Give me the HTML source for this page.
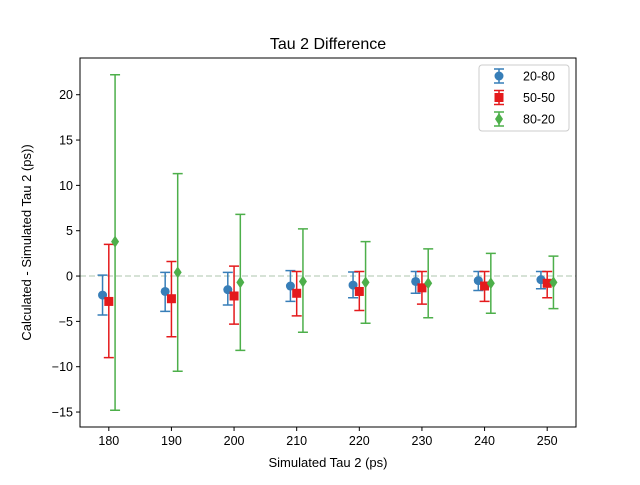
<!DOCTYPE html>
<html><head><meta charset="utf-8"><style>
body{margin:0;background:#fff}
svg{font-family:"Liberation Sans","DejaVu Sans",sans-serif}
</style></head><body>
<svg id="c" width="640" height="480" xmlns="http://www.w3.org/2000/svg"></svg>
<script>
const categories=[180,190,200,210,220,230,240,250];
const blueVals=[-2.1,-1.7,-1.5,-1.1,-1.0,-0.6,-0.5,-0.4];
const blueHi=[0.1,0.4,0.4,0.6,0.45,0.5,0.5,0.5];
const blueLo=[-4.3,-3.9,-3.2,-2.8,-2.4,-1.9,-1.6,-1.4];
const redVals=[-2.8,-2.5,-2.2,-1.9,-1.7,-1.3,-1.1,-0.8];
const redHi=[3.5,1.6,1.1,0.5,0.5,0.5,0.5,0.5];
const redLo=[-9.0,-6.7,-5.3,-4.4,-3.8,-3.1,-2.8,-2.4];
const greenVals=[3.8,0.4,-0.7,-0.6,-0.7,-0.8,-0.8,-0.7];
const greenHi=[22.2,11.3,6.8,5.2,3.8,3.0,2.5,2.2];
const greenLo=[-14.8,-10.5,-8.2,-6.2,-5.2,-4.6,-4.1,-3.6];
const yTicks=[-15,-10,-5,0,5,10,15,20];
const xTicks=[180,190,200,210,220,230,240,250];

const L=80,R=576,T=58,B=427;
const xmin=175.4,xmax=254.6,ymin=-16.65,ymax=24.05;
const X=v=>L+(v-xmin)/(xmax-xmin)*(R-L);
const Y=v=>B-(v-ymin)/(ymax-ymin)*(B-T);
const svg=document.getElementById('c');
const NS='http://www.w3.org/2000/svg';
function mk(tag,attrs,parent){const e=document.createElementNS(NS,tag);for(const k in attrs)e.setAttribute(k,attrs[k]);(parent||svg).appendChild(e);return e;}

let t=mk('text',{x:(L+R)/2,y:49,'text-anchor':'middle','font-size':16});t.textContent='Tau 2 Difference';



let z=mk('line',{x1:L,x2:R,y1:Y(0),y2:Y(0),stroke:'#c8d8c8','stroke-width':1.5,'stroke-dasharray':'6,3'});



const series=[
 {name:'20-80',c:'#377eb8',v:blueVals,hi:blueHi,lo:blueLo,off:-1,m:'circle'},
 {name:'50-50',c:'#e41a1c',v:redVals,hi:redHi,lo:redLo,off:0,m:'square'},
 {name:'80-20',c:'#4daf4a',v:greenVals,hi:greenHi,lo:greenLo,off:1,m:'diamond'}];
function marker(g,type,x,y,c){
 if(type==='circle')return mk('circle',{cx:x,cy:y,r:4.5,fill:c},g);
 if(type==='square')return mk('rect',{x:x-4.5,y:y-4.5,width:9,height:9,fill:c},g);
 return mk('polygon',{points:`${x},${y-6} ${x+4},${y} ${x},${y+6} ${x-4},${y}`,fill:c},g);
}
series.forEach((s,si)=>{
 const g=mk('g',{});
 
 
 categories.forEach((cat,i)=>{
  const x=X(cat+s.off);
  const eb=mk('path',{d:`M${x},${Y(s.hi[i])}V${Y(s.lo[i])}M${x-5},${Y(s.hi[i])}H${x+5}M${x-5},${Y(s.lo[i])}H${x+5}`,stroke:s.c,'stroke-width':1.5,fill:'none'},g);
  
  
  const m=marker(g,s.m,x,Y(s.v[i]),s.c);
  
  
 });
});

let fr=mk('rect',{x:L,y:T,width:R-L,height:B-T,fill:'none',stroke:'#000','stroke-width':1});


xTicks.forEach(v=>{
 const x=X(v);
 mk('line',{x1:x,x2:x,y1:B,y2:B+4,stroke:'#000'});
 const tx=mk('text',{x:x,y:B+18,'text-anchor':'middle','font-size':12.5});tx.textContent=v;
 
 
});
yTicks.forEach(v=>{
 const y=Y(v);
 mk('line',{x1:L-4,x2:L,y1:y,y2:y,stroke:'#000'});
 const ty=mk('text',{x:L-7,y:y+4.5,'text-anchor':'end','font-size':12.5});ty.textContent=String(v).replace('-','\u2212');
 
 
});
let xt=mk('text',{x:(L+R)/2,y:467,'text-anchor':'middle','font-size':13});xt.textContent='Simulated Tau 2 (ps)';


let yt=mk('text',{x:0,y:0,'text-anchor':'middle','font-size':13,transform:`translate(31,${(T+B)/2}) rotate(-90)`});yt.textContent='Calculated - Simulated Tau 2 (ps))';



const lg=mk('g',{});


mk('rect',{x:479,y:65,width:90,height:66,rx:3,fill:'#fff',stroke:'#ccc'},lg);
series.forEach((s,i)=>{
 const y=76+i*21.5, x=499;
 const e=mk('g',{},lg);
 
 
 mk('path',{d:`M${x},${y-7}V${y+7}M${x-5},${y-7}H${x+5}M${x-5},${y+7}H${x+5}`,stroke:s.c,'stroke-width':1.5},e);
 marker(e,s.m,x,y,s.c);
 const tt=mk('text',{x:523,y:y+4.5,'font-size':12.5},e);tt.textContent=s.name;
});
</script>
</body></html>
